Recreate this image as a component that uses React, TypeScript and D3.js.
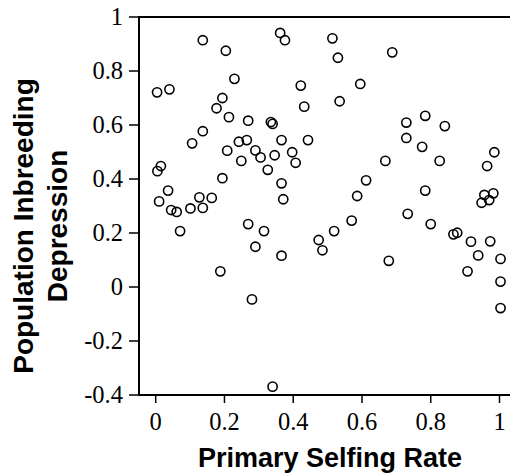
import React from "react";
import * as d3 from "d3";

const selfingRate: number[] = [
  0.137, 0.204, 0.362, 0.376, 0.514, 0.530, 0.688, 0.229, 0.004, 0.040,
  0.422, 0.595, 0.194, 0.177, 0.432, 0.535, 0.213, 0.269, 0.335, 0.340,
  0.729, 0.784, 0.841, 0.137, 0.106, 0.242, 0.265, 0.366, 0.443, 0.729,
  0.208, 0.290, 0.305, 0.346, 0.397, 0.407, 0.249, 0.326, 0.775, 0.985,
  0.964, 0.668, 0.826, 0.015, 0.005, 0.194, 0.366, 0.612, 0.036, 0.371,
  0.586, 0.784, 0.010, 0.127, 0.163, 0.045, 0.061, 0.101, 0.137, 0.948,
  0.956, 0.970, 0.982, 0.071, 0.269, 0.315, 0.290, 0.366, 0.474, 0.485,
  0.519, 0.570, 0.733, 0.800, 0.866, 0.877, 0.917, 0.973, 0.938, 0.907,
  1.003, 1.003, 1.003, 0.678, 0.188, 0.280, 0.340,
];

const inbreedingDepression: number[] = [
  0.914, 0.875, 0.941, 0.914, 0.921, 0.849, 0.869, 0.771, 0.721, 0.732,
  0.746, 0.752, 0.700, 0.662, 0.668, 0.688, 0.629, 0.616, 0.611, 0.604,
  0.609, 0.634, 0.596, 0.577, 0.532, 0.538, 0.544, 0.544, 0.544, 0.552,
  0.505, 0.506, 0.480, 0.488, 0.499, 0.460, 0.467, 0.434, 0.519, 0.499,
  0.448, 0.467, 0.467, 0.448, 0.429, 0.403, 0.384, 0.395, 0.357, 0.325,
  0.337, 0.357, 0.317, 0.332, 0.330, 0.285, 0.278, 0.291, 0.293, 0.312,
  0.341, 0.322, 0.347, 0.207, 0.233, 0.207, 0.149, 0.116, 0.174, 0.136,
  0.207, 0.246, 0.271, 0.233, 0.195, 0.201, 0.168, 0.169, 0.117, 0.058,
  0.104, 0.020, -0.078, 0.097, 0.058, -0.046, -0.369,
];

const xTicks: number[] = [0, 0.2, 0.4, 0.6, 0.8, 1];
const yTicks: number[] = [-0.4, -0.2, 0, 0.2, 0.4, 0.6, 0.8, 1];

const xTitle = "Primary Selfing Rate";
const yTitleLines = ["Population Inbreeding", "Depression"];

const W = 510;
const H = 474;
const left = 139;
const right = 512;
const top = 17;
const bottom = 395;

const serif = "'Liberation Serif', 'Times New Roman', serif";
const sans = "'Liberation Sans', Arial, sans-serif";

export default function App() {
  const x = d3.scaleLinear().domain([0, 1]).range([155.7, 499.5]);
  const y = d3.scaleLinear().domain([-0.4, 1]).range([bottom, top]);
  const fmt = (v: number) => String(v);

  const points = selfingRate.map((sx, i) => ({ sx, sy: inbreedingDepression[i] }));

  return (
    <svg
      width={W}
      height={H}
      style={{ position: "absolute", left: 0, top: 0, background: "#fff" }}
    >
      <rect x={0} y={0} width={W} height={H} fill="#fff" />
      <line x1={left} x2={right} y1={top} y2={top} stroke="#000" strokeWidth={2} />
      <line x1={left} x2={right} y1={bottom} y2={bottom} stroke="#000" strokeWidth={2} />
      <line x1={left} x2={left} y1={top - 1} y2={bottom + 1} stroke="#000" strokeWidth={2} />

      {yTicks.map((t) => (
        <g key={"y" + t}>
          <line x1={left - 10} x2={left} y1={y(t)} y2={y(t)} stroke="#000" strokeWidth={1.5} />
          <text
            x={123}
            y={y(t)}
            dy="0.34em"
            textAnchor="end"
            fontFamily={serif}
            fontSize={24.5}
            fill="#000"
          >
            {fmt(t)}
          </text>
        </g>
      ))}

      {xTicks.map((t) => (
        <g key={"x" + t}>
          <line x1={x(t)} x2={x(t)} y1={bottom} y2={bottom + 8} stroke="#000" strokeWidth={1.5} />
          <text
            x={x(t)}
            y={430}
            textAnchor="middle"
            fontFamily={serif}
            fontSize={24.5}
            fill="#000"
          >
            {fmt(t)}
          </text>
        </g>
      ))}

      {points.map((p, i) => (
        <circle
          key={i}
          cx={x(p.sx)}
          cy={y(p.sy)}
          r={4.6}
          fill="none"
          stroke="#000"
          strokeWidth={1.6}
        />
      ))}

      <text
        x={330}
        y={467}
        textAnchor="middle"
        fontFamily={sans}
        fontWeight="bold"
        fontSize={27}
        fill="#000"
      >
        {xTitle}
      </text>
      <g transform="translate(33,226) rotate(-90)">
        <text
          x={0}
          y={0}
          textAnchor="middle"
          fontFamily={sans}
          fontWeight="bold"
          fontSize={28}
          fill="#000"
        >
          {yTitleLines[0]}
        </text>
        <text
          x={0}
          y={34}
          textAnchor="middle"
          fontFamily={sans}
          fontWeight="bold"
          fontSize={28}
          fill="#000"
        >
          {yTitleLines[1]}
        </text>
      </g>
    </svg>
  );
}
